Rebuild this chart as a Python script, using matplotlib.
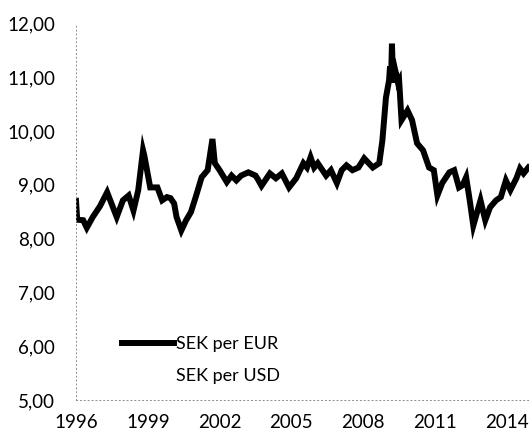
# %%

import matplotlib.pyplot as plt
from matplotlib.ticker import FuncFormatter

# %%

# SEK per EUR (decimal years)
eur_years = [
    1996.0, 1996.05, 1996.3, 1996.45, 1996.7, 1997.0, 1997.3, 1997.7, 1997.96,
    1998.2, 1998.4, 1998.6, 1998.8, 1998.85, 1999.1, 1999.4, 1999.6, 1999.8,
    1999.95, 2000.1, 2000.2, 2000.4, 2000.6, 2000.8, 2001.0, 2001.25, 2001.5,
    2001.7, 2001.8, 2002.0, 2002.3, 2002.5, 2002.7, 2002.9, 2003.2, 2003.5,
    2003.6, 2003.75, 2004.1, 2004.35, 2004.6, 2004.9, 2005.2, 2005.5, 2005.65,
    2005.8, 2005.95, 2006.1, 2006.45, 2006.65, 2006.9, 2007.1, 2007.3, 2007.55,
    2007.8, 2008.04, 2008.4, 2008.67, 2008.8, 2008.95, 2009.08, 2009.12,
    2009.16, 2009.2, 2009.25, 2009.35, 2009.45, 2009.5, 2009.6, 2009.85,
    2010.04, 2010.25, 2010.5, 2010.75, 2010.95, 2011.1, 2011.3, 2011.6,
    2011.8, 2012.0, 2012.15, 2012.3, 2012.45, 2012.6, 2012.9, 2013.1, 2013.3,
    2013.55, 2013.75, 2013.96, 2014.15, 2014.4, 2014.55, 2014.7, 2014.9,
]
eur_values = [
    8.70, 8.35, 8.34, 8.20, 8.40, 8.60, 8.86, 8.40, 8.71,
    8.80, 8.52, 8.90, 9.64, 9.55, 8.95, 8.95, 8.71, 8.77,
    8.75, 8.65, 8.40, 8.15, 8.34, 8.49, 8.77, 9.14, 9.27,
    9.85, 9.40, 9.27, 9.05, 9.17, 9.08, 9.17, 9.23, 9.17,
    9.10, 8.98, 9.21, 9.12, 9.21, 8.95, 9.12, 9.40, 9.32,
    9.51, 9.32, 9.40, 9.17, 9.27, 9.03, 9.27, 9.36, 9.27,
    9.32, 9.49, 9.32, 9.40, 9.82, 10.62, 10.94, 11.20,
    10.90, 11.62, 10.90, 11.10, 10.90, 10.94, 10.20, 10.38,
    10.20, 9.77, 9.64, 9.32, 9.27, 8.80, 9.03, 9.23,
    9.27, 8.95, 8.99, 9.14, 8.71, 8.24, 8.71, 8.34, 8.58,
    8.71, 8.77, 9.08, 8.90, 9.12, 9.30, 9.21, 9.32,
]

# second series is in the legend but not drawn in the original
usd_years = []
usd_values = []

year_ticks = [1996, 1999, 2002, 2005, 2008, 2011, 2014]
value_ticks = [5, 6, 7, 8, 9, 10, 11, 12]

plt.rcParams["font.family"] = ["Lato", "DejaVu Sans"]

fig = plt.figure(figsize=(5.29, 4.36), dpi=100)
ax = fig.add_axes([0.1437, 0.0826, 0.856, 0.864])

ax.plot(eur_years, eur_values, color="black", lw=4.3, solid_joinstyle="miter",
        label="SEK per EUR")
ax.plot(usd_years, usd_values, color="white", lw=4.3, label="SEK per USD")

ax.set_xlim(1996, 2014.92)
ax.set_ylim(5, 12)
ax.set_xticks(year_ticks)
ax.set_yticks(value_ticks)
ax.yaxis.set_major_formatter(FuncFormatter(lambda v, p: f"{v:.2f}".replace(".", ",")))
ax.tick_params(length=0, labelsize=13.5)
ax.tick_params(axis="y", pad=15)
ax.tick_params(axis="x", pad=10)

for side in ["top", "right"]:
    ax.spines[side].set_visible(False)
for side in ["left", "bottom"]:
    ax.spines[side].set_color("0.55")
    ax.spines[side].set_linestyle((0, (1, 3)))
    ax.spines[side].set_linewidth(0.7)

ax.legend(loc="lower left", bbox_to_anchor=(0.065, 0.0), frameon=False,
          fontsize=13, handlelength=2.9, handletextpad=0.1, labelspacing=0.85)

fig.savefig("out.png")
